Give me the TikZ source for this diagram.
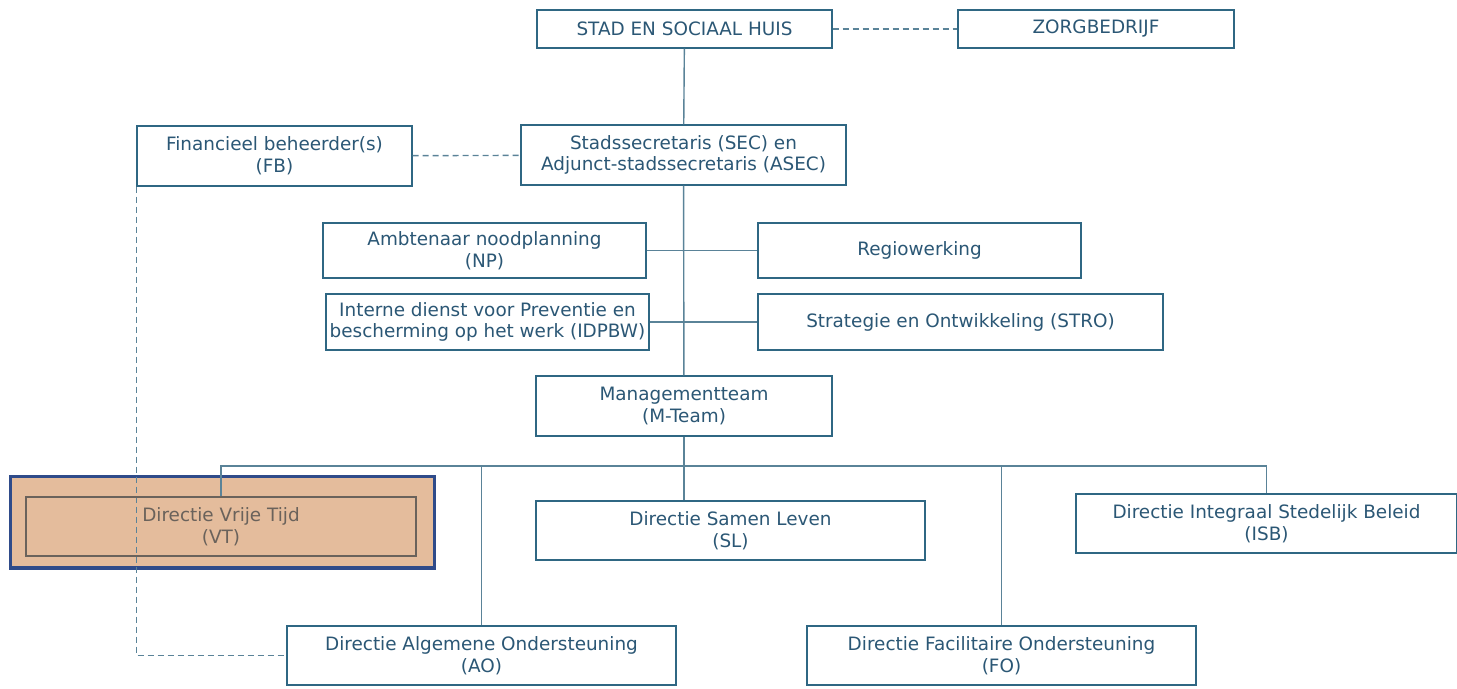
\documentclass[tikz,border=0pt]{standalone}
\usepackage{fontspec}
\setmainfont{DejaVu Sans}
\usepackage{tikz}
\usetikzlibrary{positioning}

\definecolor{orgtext}{HTML}{2B5775}
\definecolor{orgborder}{HTML}{2F6783}
\definecolor{orgline}{HTML}{5A8398}
\definecolor{vtfill}{HTML}{E4BC9C}
\definecolor{vtedge}{HTML}{2F4B8A}
\definecolor{vtgray}{HTML}{6A625B}

\tikzset{
  orgbox/.style={draw=orgborder, line width=0.65pt, fill=white, text=orgtext,
                 align=center, inner sep=0pt, font=\fontsize{9.2}{10.8}\selectfont},
  link/.style={draw=orgline, line width=0.7pt},
  dashlink/.style={link, dash pattern=on 3pt off 2pt},
}

\begin{document}
\begin{tikzpicture}[x=0.5pt, y=-0.5pt]

  \useasboundingbox (0,0) rectangle (1457,689);

  % top level
  \node[orgbox, minimum width=147.5pt, minimum height=19pt] (SH) at (684.5,29) {STAD EN SOCIAAL HUIS};
  \node[orgbox, minimum width=138pt, minimum height=19pt] (ZB) at (1096,29) {ZORGBEDRIJF};

  \node[orgbox, minimum width=137.5pt, minimum height=30pt] (FB) at (274.5,156) {Financieel beheerder(s)\\(FB)};
  \node[orgbox, minimum width=162.5pt, minimum height=30pt] (SEC) at (683.5,155) {Stadssecretaris (SEC) en\\Adjunct-stadssecretaris (ASEC)};

  % staff
  \node[orgbox, minimum width=161.5pt, minimum height=27.5pt] (NP) at (484.5,250.5) {Ambtenaar noodplanning\\(NP)};
  \node[orgbox, minimum width=161.5pt, minimum height=27.5pt] (RW) at (919.5,250.5) {Regiowerking};
  \node[orgbox, minimum width=161.5pt, minimum height=28pt] (IDPBW) at (487.5,322) {Interne dienst voor Preventie en\\bescherming op het werk (IDPBW)};
  \node[orgbox, minimum width=202.5pt, minimum height=28pt] (STRO) at (960.5,322) {Strategie en Ontwikkeling (STRO)};

  \node[orgbox, minimum width=148pt, minimum height=30pt] (MT) at (684,406) {Managementteam\\(M-Team)};

  % directies
  \node[draw=vtedge, line width=1.5pt, fill=vtfill, minimum width=212pt, minimum height=45.5pt, inner sep=0pt] (VTout) at (222,522.5) {};
  \node[orgbox, minimum width=194.5pt, minimum height=29.5pt] (SL) at (730.5,530.5) {Directie Samen Leven\\(SL)};
  \node[orgbox, minimum width=190.5pt, minimum height=29.5pt] (ISB) at (1266.5,523.5) {Directie Integraal Stedelijk Beleid\\(ISB)};
  \node[orgbox, minimum width=194.5pt, minimum height=29.5pt] (AO) at (481.5,655.5) {Directie Algemene Ondersteuning\\(AO)};
  \node[orgbox, minimum width=194.5pt, minimum height=29.5pt] (FO) at (1001.5,655.5) {Directie Facilitaire Ondersteuning\\(FO)};

  % lines
  \draw[dashlink] (SH) -- (ZB);
  \draw[dashlink] (FB) -- (SEC);
  \draw[dashlink] (FB.south west) |- (AO.west);

  \node[orgbox, draw=vtgray, fill=none, text=vtgray, minimum width=195pt, minimum height=29.5pt] (VT) at (221,526.5) {Directie Vrije Tijd\\(VT)};

  \draw[link] (SH) -- (SEC);
  \draw[link] (SEC) -- (MT);
  \draw[link] (NP) -- (RW);
  \draw[link] (IDPBW) -- (STRO);

  \coordinate (bus) at (684,466);
  \draw[link] (MT.south) -- (MT.south |- SL.north);
  \draw[link] (VT.north) |- (bus) -| (ISB.north);
  \draw[link] (AO.north) |- (bus) -| (FO.north);

\end{tikzpicture}
\end{document}
